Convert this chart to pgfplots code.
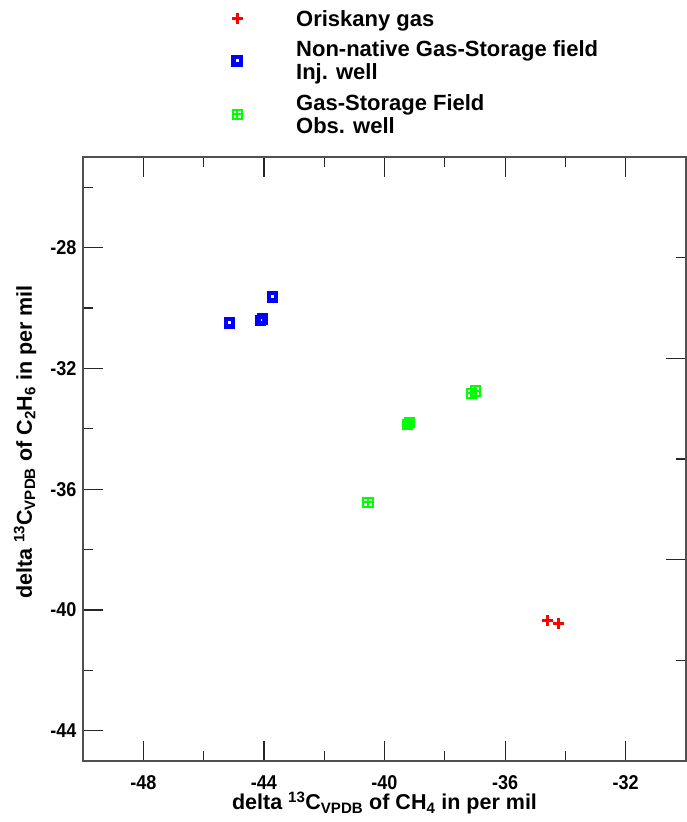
\documentclass[border=0pt]{standalone}
\usepackage{fontspec}
\setmainfont{Liberation Sans}
\newfontfamily\ticknarrow[FakeStretch=0.9]{Liberation Sans}
\usepackage{pgfplots}
\pgfplotsset{compat=1.18}

\definecolor{oriskany}{RGB}{255,0,0}
\definecolor{injwell}{RGB}{0,0,255}
\definecolor{obswell}{RGB}{0,255,0}
\definecolor{axisgray}{RGB}{80,80,80}

% square with a cross inside
\pgfdeclareplotmark{boxplus}{%
  \pgfpathrectangle{\pgfpoint{-\pgfplotmarksize}{-\pgfplotmarksize}}{\pgfpoint{2\pgfplotmarksize}{2\pgfplotmarksize}}%
  \pgfpathmoveto{\pgfpoint{-\pgfplotmarksize}{0pt}}\pgfpathlineto{\pgfpoint{\pgfplotmarksize}{0pt}}%
  \pgfpathmoveto{\pgfpoint{0pt}{-\pgfplotmarksize}}\pgfpathlineto{\pgfpoint{0pt}{\pgfplotmarksize}}%
  \pgfusepathqstroke}

\begin{document}
\begin{tikzpicture}
\begin{axis}[
    scale only axis,
    width=603pt, height=604pt,
    xmin=-50, xmax=-30,
    ymin=-45, ymax=-25,
    xtick={-48,-44,-40,-36,-32},
    minor xtick={-46,-42,-38,-34},
    ytick={-44,-40,-36,-32,-28},
    minor ytick={-42,-38,-34,-30,-26},
    ytick pos=left,
    tick align=inside,
    major tick length=20pt,
    minor tick length=10pt,
    axis line style={axisgray, line width=1.2pt},
    every tick/.style={black!85, line width=1.2pt},
    /pgf/number format/assume math mode=true,
    ticklabel style={font=\ticknarrow\bfseries\fontsize{20}{22}\selectfont},
    yticklabel style={xshift=-3pt},
    xticklabel style={yshift=-11pt},
    xlabel={delta \textsuperscript{13}C\textsubscript{VPDB} of CH\textsubscript{4} in per mil},
    ylabel={delta \textsuperscript{13}C\textsubscript{VPDB} of C\textsubscript{2}H\textsubscript{6} in per mil},
    label style={font=\bfseries\fontsize{21.5}{24}\selectfont},
    xlabel style={at={(axis description cs:0.5,-0.081)}, anchor=base},
    ylabel style={at={(axis description cs:-0.0846,0.528)}, anchor=base, rotate=0},
    legend cell align=left,
    legend style={
        at={(axis description cs:0.2454,1.2450)}, anchor=north west,
        draw=none, fill=none, inner sep=0pt,
        font=\bfseries\fontsize{22}{23}\selectfont,
        cells={align=left},
        row sep=11pt,
        nodes={inner sep=1pt}
    },
    legend image code/.code={%
        \path[draw=none, fill=none] (-6pt,-6pt) rectangle (58pt,6pt);
        \draw[#1] plot coordinates {(0pt,0pt)};
    },
]

\addplot[only marks, mark=+, color=oriskany, mark size=5.5pt, line width=3pt]
    coordinates {(-34.61,-40.36) (-34.23,-40.46)};
\addlegendentry{Oriskany gas}

\addplot[only marks, mark=square, color=injwell, mark size=3.7pt, line width=4.2pt]
    coordinates {(-45.14,-30.49) (-44.11,-30.42) (-44.05,-30.37) (-43.72,-29.63)};
\addlegendentry{Non-native Gas-Storage field\\Inj. well}

\addplot[only marks, mark=boxplus, color=obswell, mark size=4.6pt, line width=2pt]
    coordinates {(-40.55,-36.43) (-39.23,-33.87) (-39.17,-33.78) (-37.11,-32.82) (-36.99,-32.75)};
\addlegendentry{Gas-Storage Field\\Obs. well}

\end{axis}

% right-hand ticks on their own scale
\begin{axis}[
    scale only axis,
    width=603pt, height=604pt,
    xmin=0, xmax=1, ymin=0, ymax=6,
    axis x line=none,
    axis y line*=right,
    ytick={2,4}, minor ytick={1,3,5},
    yticklabels={},
    tick align=inside,
    major tick length=20pt,
    minor tick length=10pt,
    axis line style={axisgray, line width=1.2pt, -},
    every tick/.style={black!85, line width=1.2pt},
]
\end{axis}

\pgfresetboundingbox
\path[use as bounding box] (current axis.south west) ++(-83pt,-61pt) rectangle ++(687pt,822pt);
\end{tikzpicture}
\end{document}
